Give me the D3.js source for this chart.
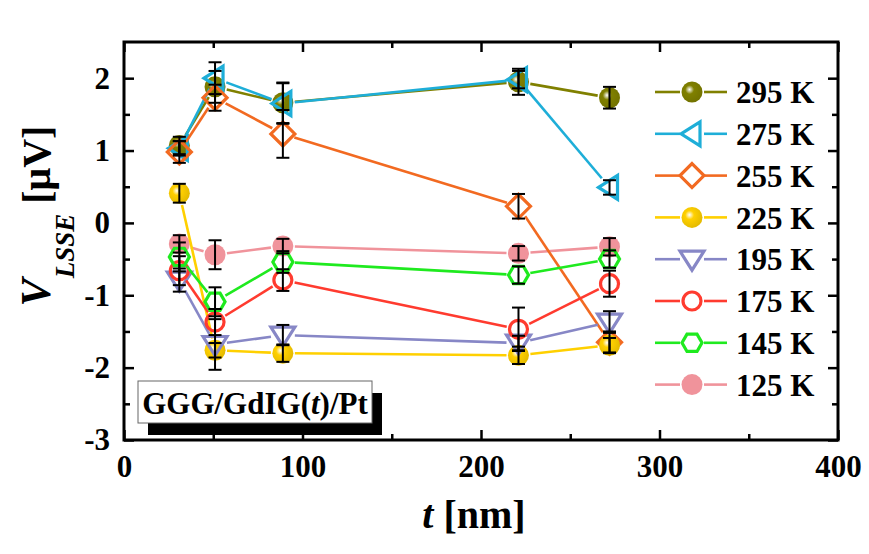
<!DOCTYPE html>
<html>
<head>
<meta charset="utf-8">
<script src="https://cdn.jsdelivr.net/npm/d3@7"></script>
<style>
  body { margin: 0; background: #fff; }
  svg text { font-family: "Liberation Serif", "Times New Roman", serif; font-weight: bold; }
</style>
</head>
<body>
<div id="chart"></div>
<script>
// thickness of the GdIG layer (nm)
const thickness = [31, 51, 89, 221, 272];

// V_LSSE (uV) for each temperature
const v295 = [1.07, 1.88, 1.66, 1.95, 1.73];
const v275 = [1.03, 2.00, 1.65, 1.98, 0.49];
const v255 = [0.98, 1.73, 1.23, 0.23, -1.65];
const v225 = [0.41, -1.76, -1.80, -1.83, -1.69];
const v195 = [-0.79, -1.68, -1.55, -1.66, -1.37];
const v175 = [-0.66, -1.37, -0.79, -1.47, -0.84];
const v145 = [-0.47, -1.09, -0.54, -0.72, -0.50];
const v125 = [-0.29, -0.44, -0.32, -0.42, -0.33];

// error bars (half-widths, uV)
const e295 = [0.12, 0.22, 0.28, 0.18, 0.15];
const e275 = [0.10, 0.22, 0.28, 0.12, 0.10];
const e255 = [0.15, 0.18, 0.33, 0.17, 0.15];
const e225 = [0.13, 0.10, 0.12, 0.12, 0.10];
const e195 = [0.16, 0.35, 0.14, 0.10, 0.15];
const e175 = [0.20, 0.18, 0.15, 0.30, 0.18];
const e145 = [0.20, 0.20, 0.15, 0.12, 0.12];
const e125 = [0.12, 0.20, 0.10, 0.10, 0.12];

const seriesLabels = ["295 K", "275 K", "255 K", "225 K", "195 K", "175 K", "145 K", "125 K"];
const xTicks = [0, 100, 200, 300, 400];
const yTicks = [-3, -2, -1, 0, 1, 2];

// styles
const styles = [
    { color: "#808000", shape: "sphere" },
    { color: "#1EAED8", shape: "triLeft" },
    { color: "#F26A21", shape: "diamond" },
    { color: "#FFD000", shape: "sphere" },
    { color: "#8787C6", shape: "triDown" },
    { color: "#FF3B2F", shape: "circle" },
    { color: "#1FEA1F", shape: "hexagon" },
    { color: "#F0939B", shape: "dot" }
];

const values = [v295, v275, v255, v225, v195, v175, v145, v125];
const errors = [e295, e275, e255, e225, e195, e175, e145, e125];

const series = seriesLabels.map((label, i) => ({
    label,
    color: styles[i].color,
    shape: styles[i].shape,
    points: thickness.map((t, j) => ({ t, v: values[i][j], e: errors[i][j] }))
}));

const W = 869, H = 554;
const svg = d3.select("#chart").append("svg").attr("width", W).attr("height", H);
svg.append("rect").attr("width", W).attr("height", H).attr("fill", "#fff");

const x = d3.scaleLinear().domain([0, 400]).range([124, 838]);
const y = d3.scaleLinear().domain([-3, 2.5]).range([440, 42]);

// gradients for sphere markers
const defs = svg.append("defs");
series.forEach((s, i) => {
    if (s.shape !== "sphere") return;
    const g = defs.append("radialGradient").attr("id", "grad" + i)
        .attr("cx", "0.4").attr("cy", "0.4").attr("r", "0.6").attr("fx", "0.38").attr("fy", "0.38");
    g.append("stop").attr("offset", "0").attr("stop-color", "#fff");
    g.append("stop").attr("offset", "0.35").attr("stop-color", s.color);
    g.append("stop").attr("offset", "1").attr("stop-color", d3.color(s.color).darker(0.3));
});

// marker drawing helper
function drawMarker(g, s, i, cx, cy) {
    const sw = 3.2;
    if (s.shape === "sphere") {
        g.append("circle").attr("cx", cx).attr("cy", cy).attr("r", 10.5)
            .attr("fill", `url(#grad${i})`);
    } else if (s.shape === "dot") {
        g.append("circle").attr("cx", cx).attr("cy", cy).attr("r", 10.5).attr("fill", s.color);
    } else if (s.shape === "circle") {
        g.append("circle").attr("cx", cx).attr("cy", cy).attr("r", 9)
            .attr("fill", "none").attr("stroke", s.color).attr("stroke-width", sw);
    } else {
        let pts;
        if (s.shape === "triLeft") pts = [[-11, 0], [8, -12], [8, 12]];
        else if (s.shape === "triDown") pts = [[-12, -8], [12, -8], [0, 11]];
        else if (s.shape === "diamond") pts = [[0, -12], [12, 0], [0, 12], [-12, 0]];
        else pts = d3.range(6).map(k => {
            const a = Math.PI / 6 + k * Math.PI / 3;
            return [10 * Math.cos(a), 10 * Math.sin(a)];
        }).map(p => [p[1], p[0]]);
        g.append("polygon")
            .attr("points", pts.map(p => [cx + p[0], cy + p[1]].join(",")).join(" "))
            .attr("fill", "none").attr("stroke", s.color)
            .attr("stroke-width", sw).attr("stroke-linejoin", "miter");
    }
}

// segments with a gap around markers
function gapSegment(g, color, x1, y1, x2, y2, gap) {
    const dx = x2 - x1, dy = y2 - y1;
    const len = Math.hypot(dx, dy);
    if (len <= 2 * gap) return;
    const ux = dx / len, uy = dy / len;
    g.append("line")
        .attr("x1", x1 + ux * gap).attr("y1", y1 + uy * gap)
        .attr("x2", x2 - ux * gap).attr("y2", y2 - uy * gap)
        .attr("stroke", color).attr("stroke-width", 2.6);
}

// draw order: pink first, then the rest in legend order
const order = [7, 0, 1, 2, 3, 4, 5, 6];
const plot = svg.append("g");
order.forEach(i => {
    const s = series[i];
    const g = plot.append("g");
    s.points.forEach((p, j) => {
        if (j === 0) return;
        const q = s.points[j - 1];
        gapSegment(g, s.color, x(q.t), y(q.v), x(p.t), y(p.v), 12);
    });
    s.points.forEach(p => drawMarker(g, s, i, x(p.t), y(p.v)));
});

// error bars on top
const eb = svg.append("g").attr("stroke", "#000").attr("stroke-width", 2);
series.forEach(s => {
    s.points.forEach(p => {
        const cx = x(p.t), y1 = y(p.v + p.e), y2 = y(p.v - p.e);
        eb.append("line").attr("x1", cx).attr("x2", cx).attr("y1", y1).attr("y2", y2);
        eb.append("line").attr("x1", cx - 6.5).attr("x2", cx + 6.5).attr("y1", y1).attr("y2", y1);
        eb.append("line").attr("x1", cx - 6.5).attr("x2", cx + 6.5).attr("y1", y2).attr("y2", y2);
    });
});

// axes
const xMinor = d3.range(50, 400, 100);
const yMinor = d3.range(-2.5, 2.5, 1);

function styleAxis(sel) {
    sel.select(".domain").remove();
    sel.selectAll("line").attr("stroke", "#000").attr("stroke-width", 2.5);
    sel.selectAll("text").attr("fill", "#000").style("font-size", "31px");
}

svg.append("g").attr("transform", "translate(0,440)")
    .call(d3.axisBottom(x).tickValues(xTicks).tickSize(-10).tickPadding(15).tickFormat(d => String(d)))
    .call(styleAxis);
svg.append("g").attr("transform", "translate(0,440)")
    .call(d3.axisBottom(x).tickValues(xMinor).tickSize(-6).tickFormat(""))
    .call(styleAxis);
svg.append("g").attr("transform", "translate(0,42)")
    .call(d3.axisTop(x).tickValues(xTicks).tickSize(-10).tickFormat(""))
    .call(styleAxis);
svg.append("g").attr("transform", "translate(0,42)")
    .call(d3.axisTop(x).tickValues(xMinor).tickSize(-6).tickFormat(""))
    .call(styleAxis);

svg.append("g").attr("transform", "translate(124,0)")
    .call(d3.axisLeft(y).tickValues(yTicks).tickSize(-10).tickPadding(14).tickFormat(d => String(d)))
    .call(styleAxis);
svg.append("g").attr("transform", "translate(124,0)")
    .call(d3.axisLeft(y).tickValues(yMinor).tickSize(-6).tickFormat(""))
    .call(styleAxis);
svg.append("g").attr("transform", "translate(838,0)")
    .call(d3.axisRight(y).tickValues(yTicks).tickSize(-10).tickFormat(""))
    .call(styleAxis);
svg.append("g").attr("transform", "translate(838,0)")
    .call(d3.axisRight(y).tickValues(yMinor).tickSize(-6).tickFormat(""))
    .call(styleAxis);

// frame
svg.append("rect")
    .attr("x", 124).attr("y", 42).attr("width", 838 - 124).attr("height", 440 - 42)
    .attr("fill", "none").attr("stroke", "#000").attr("stroke-width", 3);

// axis titles
const xt = svg.append("text").attr("x", 474).attr("y", 528)
    .attr("text-anchor", "middle").style("font-size", "40px").attr("fill", "#000");
xt.append("tspan").style("font-style", "italic").text("t");
xt.append("tspan").text(" [nm]");

const yt = svg.append("text")
    .attr("transform", "translate(50,216) rotate(-90)")
    .attr("text-anchor", "middle").style("font-size", "40px").attr("fill", "#000");
yt.append("tspan").style("font-style", "italic").style("font-size", "42px").text("V");
yt.append("tspan").style("font-style", "italic").style("font-size", "27px").attr("dy", 24).text("LSSE");
yt.append("tspan").attr("dy", -24).text(" [μV]");

// legend
const legend = svg.append("g");
series.forEach((s, i) => {
    const ly = 92 + i * 41.8;
    const g = legend.append("g");
    g.append("line").attr("x1", 655).attr("x2", 680).attr("y1", ly).attr("y2", ly)
        .attr("stroke", s.color).attr("stroke-width", 2.6);
    g.append("line").attr("x1", 704).attr("x2", 727).attr("y1", ly).attr("y2", ly)
        .attr("stroke", s.color).attr("stroke-width", 2.6);
    drawMarker(g, s, i, 692, ly);
    g.append("text").attr("x", 736).attr("y", ly).attr("dy", "0.36em")
        .style("font-size", "31px").attr("fill", "#000").text(s.label);
});

// sample label box with shadow
svg.append("rect").attr("x", 148).attr("y", 393).attr("width", 234).attr("height", 42).attr("fill", "#000");
svg.append("rect").attr("x", 138).attr("y", 381).attr("width", 234).attr("height", 42)
    .attr("fill", "#fff").attr("stroke", "#666").attr("stroke-width", 1);
const bt = svg.append("text").attr("x", 255).attr("y", 414)
    .attr("text-anchor", "middle").style("font-size", "31px").attr("fill", "#000");
bt.append("tspan").text("GGG/GdIG(");
bt.append("tspan").style("font-style", "italic").text("t");
bt.append("tspan").text(")/Pt");
</script>
</body>
</html>
